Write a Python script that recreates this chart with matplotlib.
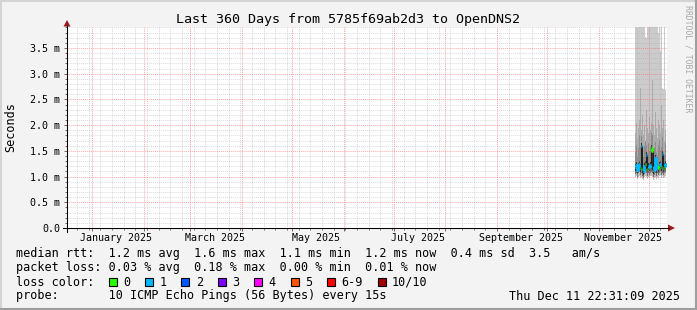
import matplotlib
matplotlib.use("Agg")
import matplotlib.pyplot as plt
import matplotlib.dates as mdates
from matplotlib.ticker import MultipleLocator, NullFormatter
from matplotlib.patches import Rectangle, Polygon
from matplotlib.lines import Line2D
import numpy as np
import pandas as pd

W, H = 697, 310
MONO = "DejaVu Sans Mono"

# --- data -------------------------------------------------------------
title = "Last 360 Days from 5785f69ab2d3 to OpenDNS2"
t_end = pd.Timestamp("2025-12-11 22:31:09")
t_start = t_end - pd.Timedelta(days=360)

# one consolidated row per pixel (14.4 h), data only exists for the last weeks
sample_times = pd.date_range("2025-11-22 18:00", periods=32, freq="864min")

median_rtt = [1.18, 1.22, 1.12, 1.20, 1.25, 1.16, 1.60, 1.14, 1.10, 1.20, 1.24, 1.42, 1.15, 1.20, 1.18, 1.22,
              1.55, 1.50, 1.12, 1.18, 1.36, 1.14, 1.20, 1.16, 1.22, 1.25, 1.18, 1.44, 1.16, 1.20, 1.24, 1.21]
loss_count = [1, 1, 1, 1, 1, 0, 1, 0, 1, 1, 0, 1, 0, 1, 1, 1,
              0, 0, 1, 1, 1, 1, 0, 0, 1, 1, 0, 1, 0, 1, 1, 1]

smoke_min = [0.99, 1.01, 0.95, 1.00, 1.02, 0.97, 1.00, 0.95, 0.93, 0.99, 1.02, 1.00, 0.96, 1.00, 0.98, 1.01,
             1.02, 1.00, 0.94, 0.98, 1.00, 0.96, 1.00, 0.97, 1.01, 1.03, 0.98, 1.01, 0.97, 1.00, 1.02, 1.01]
smoke_q25 = [1.05, 1.07, 1.00, 1.06, 1.09, 1.03, 1.07, 1.01, 0.98, 1.05, 1.08, 1.06, 1.02, 1.06, 1.04, 1.07,
             1.08, 1.06, 1.00, 1.04, 1.06, 1.01, 1.06, 1.03, 1.07, 1.09, 1.04, 1.07, 1.03, 1.06, 1.08, 1.07]
smoke_q40 = [1.11, 1.14, 1.05, 1.13, 1.17, 1.09, 1.16, 1.07, 1.03, 1.12, 1.16, 1.14, 1.08, 1.13, 1.11, 1.15,
             1.14, 1.12, 1.05, 1.11, 1.13, 1.07, 1.13, 1.09, 1.15, 1.17, 1.11, 1.14, 1.09, 1.13, 1.16, 1.14]
smoke_q60 = [1.24, 1.29, 1.18, 1.27, 1.31, 1.22, 1.66, 1.21, 1.16, 1.27, 1.30, 1.48, 1.21, 1.26, 1.24, 1.29,
             1.61, 1.57, 1.18, 1.25, 1.42, 1.20, 1.27, 1.22, 1.29, 1.31, 1.24, 1.50, 1.22, 1.27, 1.30, 1.28]
smoke_q75 = [1.48, 1.62, 1.40, 1.55, 1.80, 1.58, 1.78, 1.45, 1.38, 1.60, 1.75, 1.62, 1.46, 1.66, 1.50, 1.60,
             1.85, 1.80, 1.42, 1.55, 1.68, 1.46, 1.42, 1.62, 1.72, 1.52, 1.58, 1.76, 1.48, 1.42, 1.66, 1.52]
smoke_q90 = [1.85, 2.05, 1.75, 1.95, 2.10, 2.72, 1.90, 2.20, 1.80, 2.00, 1.70, 2.30, 1.95, 1.85, 2.15, 1.90,
             2.05, 2.88, 2.00, 1.80, 2.25, 1.95, 1.75, 2.10, 2.00, 1.85, 2.40, 1.95, 2.10, 1.70, 1.90, 1.80]
smoke_max = [4.40, 4.10, 3.88, 4.30, 4.50, 4.20, 4.60, 4.30, 4.10, 4.40, 3.72, 3.70, 4.20, 4.50, 4.30, 4.10,
             4.60, 4.40, 4.20, 4.30, 4.50, 4.10, 4.40, 3.80, 4.20, 3.45, 4.30, 2.72, 2.70, 4.20, 2.68, 4.00]

ytick_vals = [0.0, 0.5, 1.0, 1.5, 2.0, 2.5, 3.0, 3.5]
ytick_labels = ["0.0", "0.5 m", "1.0 m", "1.5 m", "2.0 m", "2.5 m", "3.0 m", "3.5 m"]
month_labels = ["January 2025", "March 2025", "May 2025", "July 2025", "September 2025", "November 2025"]
month_label_dates = ["2025-01-15 12:00", "2025-03-15 12:00", "2025-05-15 12:00",
                     "2025-07-15 12:00", "2025-09-15 12:00", "2025-11-15 12:00"]

loss_levels = ["0", "1", "2", "3", "4", "5", "6-9", "10/10"]
loss_colors = ["#26ff00", "#00b8ff", "#0059ff", "#7e00ff", "#ff00ff", "#ff5500", "#ff0000", "#a00000"]

legend_rows = [
    "median rtt:  1.2 ms avg  1.6 ms max  1.1 ms min  1.2 ms now  0.4 ms sd  3.5   am/s",
    "packet loss: 0.03 % avg  0.18 % max  0.00 % min  0.01 % now",
    "loss color:",
    "probe:       10 ICMP Echo Pings (56 Bytes) every 15s",
]
stamp = "Thu Dec 11 22:31:09 2025"

# --- figure -----------------------------------------------------------
def fx(px):
    return px / W

def fy(py):
    return 1 - py / H

fig = plt.figure(figsize=(W / 100, H / 100), dpi=100, facecolor="#f3f3f3")
ax = fig.add_axes([fx(67), fy(228), 600 / W, 201 / H])
ax.set_facecolor("white")

x = sample_times.values
bands = [
    (smoke_min, smoke_q25, "#bdbdbd"),
    (smoke_q25, smoke_q40, "#6e6e6e"),
    (smoke_q40, smoke_q60, "#323232"),
    (smoke_q60, smoke_q75, "#8c8c8c"),
    (smoke_q75, smoke_q90, "#ababab"),
    (smoke_q90, smoke_max, "#cbcbcb"),
]
for lo, hi, c in bands:
    ax.fill_between(x, lo, hi, step="mid", color=c, lw=0, zorder=1)

med = np.array(median_rtt)
loss = np.array(loss_count)
ax.plot(x, med, drawstyle="steps-mid", color="#202020", lw=0.8, zorder=3)
for lvl in np.unique(loss):
    y = np.where(loss == lvl, med, np.nan)
    ax.plot(x, y, drawstyle="steps-mid", color=loss_colors[lvl], lw=2.0,
            solid_capstyle="butt", zorder=4)

ax.set_xlim(t_start, t_end)
ax.set_ylim(0, 3.908)

ax.set_yticks(ytick_vals)
ax.set_yticklabels(ytick_labels, fontfamily=MONO, fontsize=7.2)
ax.yaxis.set_minor_locator(MultipleLocator(0.1))
ax.xaxis.set_major_locator(mdates.MonthLocator(bymonthday=1))
ax.xaxis.set_minor_locator(mdates.WeekdayLocator(byweekday=mdates.MO))
ax.xaxis.set_major_formatter(NullFormatter())
ax.xaxis.set_minor_formatter(NullFormatter())

ax.set_axisbelow(False)
ax.grid(which="minor", color="#a8a8a8", alpha=0.42, lw=0.7, ls=(0, (1, 1)))
ax.grid(which="major", color="#ff5f5f", alpha=0.55, lw=0.7, ls=(0, (1, 1)))
ax.tick_params(which="both", direction="out", length=2, width=0.6, color="#555555", pad=3)
ax.tick_params(axis="y", which="minor", length=1.2)
ax.tick_params(axis="x", which="minor", length=1.2)
for s in ax.spines.values():
    s.set_visible(False)

for lab, d in zip(month_labels, month_label_dates):
    ax.text(pd.Timestamp(d), -10 / 201, lab, transform=ax.get_xaxis_transform(),
            ha="center", va="center", fontfamily=MONO, fontsize=7.2)

# axis lines with arrows
fig.add_artist(Line2D([fx(63), fx(669)], [fy(228), fy(228)], color="black", lw=0.75))
fig.add_artist(Line2D([fx(67), fx(67)], [fy(232), fy(26)], color="black", lw=0.75))
fig.add_artist(Polygon([(fx(668), fy(224.5)), (fx(675), fy(228)), (fx(668), fy(231.5))],
                       closed=True, color="#9b1c1c", lw=0))
fig.add_artist(Polygon([(fx(63.5), fy(26.5)), (fx(67), fy(20)), (fx(70.5), fy(26.5))],
                       closed=True, color="#9b1c1c", lw=0))

fig.text(0.5, fy(19.5), title, ha="center", va="center", fontfamily=MONO, fontsize=9.6)
fig.text(fx(11), fy(127), "Seconds", rotation=90, ha="center", va="center",
         fontfamily=MONO, fontsize=8.45)
fig.text(fx(688), fy(59), "RRDTOOL / TOBI OETIKER", rotation=270, ha="center", va="center",
         fontfamily=MONO, fontsize=5.9, color="#a8a8a8")

row_y = [254, 268, 282, 296]
for txt, ry in zip(legend_rows, row_y):
    fig.text(fx(16), fy(ry), txt, ha="left", va="center", fontfamily=MONO, fontsize=8.45)
fig.text(fx(680), fy(296), stamp, ha="right", va="center", fontfamily=MONO, fontsize=8.45)

char_w = 7.07
bx = 108.5
for lab, c in zip(loss_levels, loss_colors):
    fig.add_artist(Rectangle((fx(bx), fy(285.5)), 8 / W, 8 / H, facecolor=c,
                             edgecolor="black", lw=0.8))
    fig.text(fx(bx + 14.5), fy(282), lab, ha="left", va="center", fontfamily=MONO, fontsize=8.45)
    bx += (len(lab) + 4.15) * char_w

# rrdtool style 3d frame
fig.add_artist(Line2D([0, 1], [fy(1), fy(1)], color="#d4d4d4", lw=1.5))
fig.add_artist(Line2D([fx(1), fx(1)], [0, 1], color="#d4d4d4", lw=1.5))
fig.add_artist(Line2D([0, 1], [fy(309), fy(309)], color="#9e9e9e", lw=1.5))
fig.add_artist(Line2D([fx(696), fx(696)], [0, 1], color="#9e9e9e", lw=1.5))

fig.savefig("out.png", dpi=100, facecolor=fig.get_facecolor())
